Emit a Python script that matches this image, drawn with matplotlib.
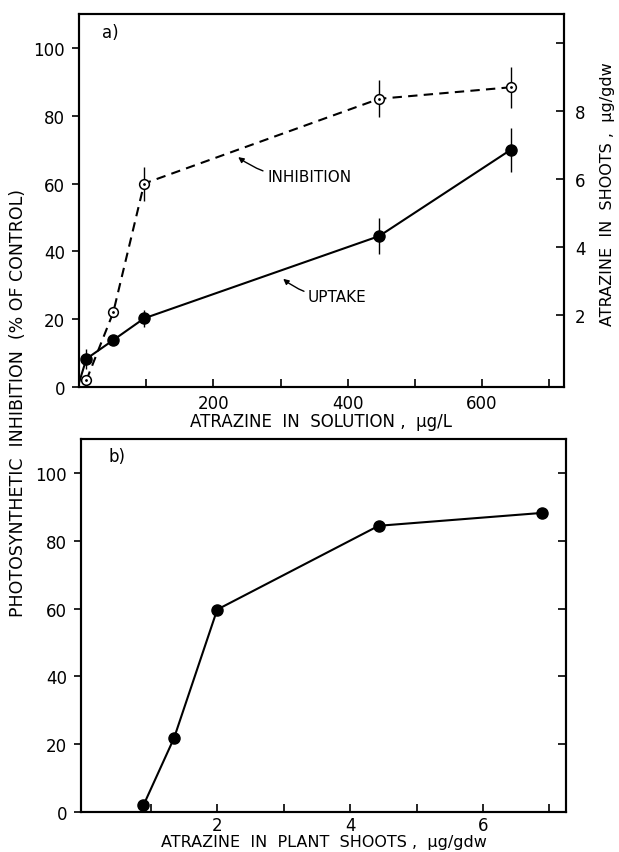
import numpy as np
import matplotlib.pyplot as plt

# top panel: atrazine in solution (ug/L)
conc = [11, 51, 97, 447, 643]
inhibition = [2, 22, 60, 85, 88.4]
inhibition_err = [0, 0, 5, 5.5, 6]
uptake = [0.71, 1.26, 1.9, 4.32, 6.86]      # ug/gdw, right axis
uptake_err = [0.3, 0.15, 0.25, 0.53, 0.65]

# bottom panel: inhibition vs atrazine in plant shoots
shoots = [0.89, 1.35, 2.0, 4.43, 6.89]
inhibition_b = [2, 21.8, 59.7, 84.4, 88.2]

plt.rcParams['font.family'] = 'DejaVu Sans'
fs = 12
lfs = 11.5

fig = plt.figure(figsize=(6.19, 8.53), dpi=100)

# ---- panel a ----
ax1 = fig.add_axes([0.1276, 0.5451, 0.7835, 0.4373])
ax1.errorbar(conc, inhibition, yerr=inhibition_err, fmt='none', ecolor='k', elinewidth=1)
ax1.plot(conc, inhibition, color='k', lw=1.5, ls=(0, (4.5, 3)))
ax1.plot(conc, inhibition, 'o', ms=7, mfc='white', mec='k', mew=1.1)
ax1.plot(conc, inhibition, '.', ms=2, color='k')
ax1.set_xlim(0, 722)
ax1.set_ylim(0, 110)
ax1.set_xticks([200, 400, 600])
ax1.set_xticks([100, 300, 500, 700], minor=True)
ax1.set_yticks([0, 20, 40, 60, 80, 100])
ax1.tick_params(axis='x', direction='in', length=6, width=1.2, labelsize=fs, pad=5)
ax1.tick_params(axis='x', which='minor', direction='in', length=6, width=1.2)
ax1.tick_params(axis='y', direction='out', length=5, width=1.2, labelsize=fs, pad=5)
ax1.set_xlabel('ATRAZINE  IN  SOLUTION ,  \u03bcg/L', fontsize=12, labelpad=0)
ax1.text(0.047, 0.952, 'a)', transform=ax1.transAxes, fontsize=fs, va='center')

ax2 = ax1.twinx()
ax2.errorbar(conc, uptake, yerr=uptake_err, fmt='none', ecolor='k', elinewidth=1)
ax2.plot([0] + conc, [0] + uptake, color='k', lw=1.5)
ax2.plot(conc, uptake, 'o', ms=8, color='k')
ax2.set_ylim(-0.12, 10.85)
ax2.set_yticks([2, 4, 6, 8])
ax2.set_yticks([10], minor=True)
ax2.tick_params(axis='y', direction='in', length=6, width=1.2, labelsize=fs, pad=8)
ax2.tick_params(axis='y', which='minor', direction='in', length=6, width=1.2)
ax2.set_ylabel('ATRAZINE  IN  SHOOTS ,  \u03bcg/gdw', fontsize=lfs)
ax2.yaxis.set_label_coords(1.075, 0.52)

ax1.annotate('INHIBITION', xy=(237, 67.8), xytext=(280, 62.2), fontsize=11, va='center',
             arrowprops=dict(arrowstyle='-|>', color='k', lw=1, mutation_scale=8,
                             shrinkA=1, shrinkB=0, connectionstyle='arc3,rad=-0.2'))
ax1.annotate('UPTAKE', xy=(304, 31.9), xytext=(341, 26.8), fontsize=11, va='center',
             arrowprops=dict(arrowstyle='-|>', color='k', lw=1, mutation_scale=8,
                             shrinkA=1, shrinkB=0, connectionstyle='arc3,rad=-0.2'))

# ---- panel b ----
ax3 = fig.add_axes([0.1309, 0.0469, 0.7835, 0.4373])
ax3.plot(shoots, inhibition_b, '-o', color='k', lw=1.5, ms=8)
ax3.set_xlim(-0.05, 7.25)
ax3.set_ylim(0, 110)
ax3.set_xticks([2, 4, 6])
ax3.set_xticks([1, 3, 5, 7], minor=True)
ax3.set_yticks([0, 20, 40, 60, 80, 100])
ax3.tick_params(axis='x', which='both', direction='in', length=6, width=1.2, labelsize=fs, pad=3)
ax3.tick_params(axis='y', direction='out', length=5, width=1.2, labelsize=fs, pad=5)
ax3.set_xlabel('ATRAZINE  IN  PLANT  SHOOTS ,  \u03bcg/gdw', fontsize=lfs, labelpad=0)
ax3.text(0.056, 0.954, 'b)', transform=ax3.transAxes, fontsize=fs, va='center')

# inward ticks on the right edge of panel b
ax4 = ax3.twinx()
ax4.set_ylim(ax3.get_ylim())
ax4.set_yticks([20, 40, 60, 80, 100])
ax4.tick_params(axis='y', direction='in', length=6, width=1.2, labelright=False)

for ax in (ax1, ax2, ax3, ax4):
    for s in ax.spines.values():
        s.set_linewidth(1.5)

fig.text(0.029, 0.528, 'PHOTOSYNTHETIC  INHIBITION  (% OF CONTROL)', rotation=90,
         fontsize=12.5, ha='center', va='center')

fig.savefig('out.png', dpi=100)
